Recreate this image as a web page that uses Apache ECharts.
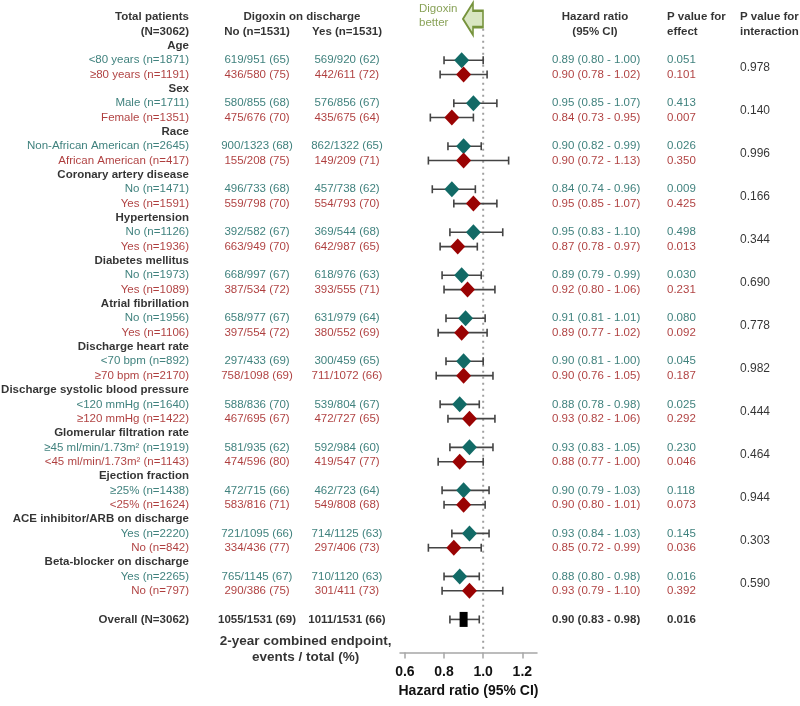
<!DOCTYPE html>
<html>
<head>
<meta charset="utf-8">
<script src="https://cdn.jsdelivr.net/npm/echarts@6/dist/echarts.min.js"></script>
<style>html,body{margin:0;padding:0;background:#fff}#c{width:800px;height:706px}</style>
</head>
<body>
<div id="c"></div>
<script>
// ---------------- DATA ----------------
const groupNames = ['Age','Sex','Race','Coronary artery disease','Hypertension','Diabetes mellitus','Atrial fibrillation','Discharge heart rate','Discharge systolic blood pressure','Glomerular filtration rate','Ejection fraction','ACE inhibitor/ARB on discharge','Beta-blocker on discharge'];
const subgroupLabels = [
  ['<80 years (n=1871)','≥80 years (n=1191)'],
  ['Male (n=1711)','Female (n=1351)'],
  ['Non-African American (n=2645)','African American (n=417)'],
  ['No (n=1471)','Yes (n=1591)'],
  ['No (n=1126)','Yes (n=1936)'],
  ['No (n=1973)','Yes (n=1089)'],
  ['No (n=1956)','Yes (n=1106)'],
  ['<70 bpm (n=892)','≥70 bpm (n=2170)'],
  ['<120 mmHg (n=1640)','≥120 mmHg (n=1422)'],
  ['≥45 ml/min/1.73m² (n=1919)','<45 ml/min/1.73m² (n=1143)'],
  ['≥25% (n=1438)','<25% (n=1624)'],
  ['Yes (n=2220)','No (n=842)'],
  ['Yes (n=2265)','No (n=797)']
];
const eventsNo = [
  ['619/951 (65)','436/580 (75)'],['580/855 (68)','475/676 (70)'],['900/1323 (68)','155/208 (75)'],
  ['496/733 (68)','559/798 (70)'],['392/582 (67)','663/949 (70)'],['668/997 (67)','387/534 (72)'],
  ['658/977 (67)','397/554 (72)'],['297/433 (69)','758/1098 (69)'],['588/836 (70)','467/695 (67)'],
  ['581/935 (62)','474/596 (80)'],['472/715 (66)','583/816 (71)'],['721/1095 (66)','334/436 (77)'],
  ['765/1145 (67)','290/386 (75)']
];
const eventsYes = [
  ['569/920 (62)','442/611 (72)'],['576/856 (67)','435/675 (64)'],['862/1322 (65)','149/209 (71)'],
  ['457/738 (62)','554/793 (70)'],['369/544 (68)','642/987 (65)'],['618/976 (63)','393/555 (71)'],
  ['631/979 (64)','380/552 (69)'],['300/459 (65)','711/1072 (66)'],['539/804 (67)','472/727 (65)'],
  ['592/984 (60)','419/547 (77)'],['462/723 (64)','549/808 (68)'],['714/1125 (63)','297/406 (73)'],
  ['710/1120 (63)','301/411 (73)']
];
const hrPoint = [[0.89,0.90],[0.95,0.84],[0.90,0.90],[0.84,0.95],[0.95,0.87],[0.89,0.92],[0.91,0.89],[0.90,0.90],[0.88,0.93],[0.93,0.88],[0.90,0.90],[0.93,0.85],[0.88,0.93]];
const hrLower = [[0.80,0.78],[0.85,0.73],[0.82,0.72],[0.74,0.85],[0.83,0.78],[0.79,0.80],[0.81,0.77],[0.81,0.76],[0.78,0.82],[0.83,0.77],[0.79,0.80],[0.84,0.72],[0.80,0.79]];
const hrUpper = [[1.00,1.02],[1.07,0.95],[0.99,1.13],[0.96,1.07],[1.10,0.97],[0.99,1.06],[1.01,1.02],[1.00,1.05],[0.98,1.06],[1.05,1.00],[1.03,1.01],[1.03,0.99],[0.98,1.10]];
const pEffect = [['0.051','0.101'],['0.413','0.007'],['0.026','0.350'],['0.009','0.425'],['0.498','0.013'],['0.030','0.231'],['0.080','0.092'],['0.045','0.187'],['0.025','0.292'],['0.230','0.046'],['0.118','0.073'],['0.145','0.036'],['0.016','0.392']];
const pInteraction = ['0.978','0.140','0.996','0.166','0.344','0.690','0.778','0.982','0.444','0.464','0.944','0.303','0.590'];
const overallLabel = 'Overall (N=3062)';
const overallNo = '1055/1531 (69)';
const overallYes = '1011/1531 (66)';
const overallHR = [0.90, 0.83, 0.98];
const overallP = '0.016';
const axisTicks = [0.6, 0.8, 1.0, 1.2];

// ---------------- LAYOUT / STYLE ----------------
const FONT = '"Liberation Sans", Arial, sans-serif';
const FS = 11.5;
const TEAL = '#126a66', RED = '#9a0303';
const TEAL_T = '#0f615c', RED_T = '#9a0c0c';
const ROW_MIN = -2.5, ROW_MAX = 42.3;
const OVERALL_ROW = 40;
const GRID_TOP = 10, GRID_H = 642.4;

function grid(left, width){ return {left:left, width:width, top:GRID_TOP, height:GRID_H, containLabel:false}; }
const grids = [
  grid(0, 189),      // 0 labels
  grid(212, 180),    // 1 events
  grid(400, 137),    // 2 forest
  grid(552, 86),     // 3 HR text
  grid(667, 60),     // 4 p effect
  grid(740, 55)      // 5 p interaction
];
const xAxes = grids.map((g,i)=> i===2 ? {
  gridIndex:2, type:'value', min:0.575, max:1.275, position:'bottom',
  axisLine:{show:true, onZero:false, lineStyle:{color:'#a6a6a6', width:1.5}},
  axisTick:{show:true, customValues:axisTicks, length:6, lineStyle:{color:'#a6a6a6', width:1.5}},
  axisLabel:{show:true, customValues:axisTicks, formatter:v=>v.toFixed(1), fontFamily:FONT, fontSize:14, fontWeight:'bold', color:'#111', margin:13},
  splitLine:{show:false},
  name:'Hazard ratio (95% CI)', nameLocation:'middle', nameGap:31,
  nameTextStyle:{fontFamily:FONT, fontSize:14, fontWeight:'bold', color:'#111'}
} : {gridIndex:i, type:'value', min:0, max:1, show:false});
const yAxes = grids.map((g,i)=>({gridIndex:i, type:'value', inverse:true, min:ROW_MIN, max:ROW_MAX, show:false}));

function item(x, row, text, color, bold, align, extra){
  return {value:[x,row], label:Object.assign({formatter:text, color:color, fontWeight:bold?'bold':'normal', align:align}, extra||{})};
}
function textSeries(gi, data){
  return {type:'scatter', xAxisIndex:gi, yAxisIndex:gi, symbolSize:1, itemStyle:{color:'rgba(0,0,0,0)'},
    clip:false, silent:true, animation:false,
    label:{show:true, position:'inside', verticalAlign:'middle', fontFamily:FONT, fontSize:FS},
    labelLayout:{hideOverlap:false}, data:data};
}

const labelData = [
  item(1,-2,'Total patients','#000',true,'right'),
  item(1,-1,'(N=3062)','#000',true,'right')
];
const eventData = [
  item(0.5,-2,'Digoxin on discharge','#000',true,'center'),
  item(0.25,-1,'No (n=1531)','#000',true,'center'),
  item(0.75,-1,'Yes (n=1531)','#000',true,'center')
];
const hrTextData = [
  item(0.5,-2,'Hazard ratio','#000',true,'center'),
  item(0.5,-1,'(95% CI)','#000',true,'center')
];
const pEffData = [
  item(0,-2,'P value for','#000',true,'left'),
  item(0,-1,'effect','#000',true,'left')
];
const pIntData = [
  item(0,-2,'P value for','#000',true,'left'),
  item(0,-1,'interaction','#000',true,'left')
];
const diamonds = [], bars = [];
groupNames.forEach((g, gi)=>{
  const base = gi*3;
  labelData.push(item(1, base, g, '#000', true, 'right'));
  for (let s=0; s<2; s++){
    const row = base+1+s;
    const col = s===0 ? TEAL_T : RED_T;
    labelData.push(item(1, row, subgroupLabels[gi][s], col, false, 'right'));
    eventData.push(item(0.25, row, eventsNo[gi][s], col, false, 'center'));
    eventData.push(item(0.75, row, eventsYes[gi][s], col, false, 'center'));
    const hr = hrPoint[gi][s], lo = hrLower[gi][s], hi = hrUpper[gi][s];
    hrTextData.push(item(0, row, hr.toFixed(2)+' ('+lo.toFixed(2)+' - '+hi.toFixed(2)+')', col, false, 'left'));
    pEffData.push(item(0, row, pEffect[gi][s], col, false, 'left'));
    diamonds.push({value:[hr,row], itemStyle:{color: s===0 ? TEAL : RED, opacity:1}});
    bars.push([lo, hi, row]);
  }
  pIntData.push(item(0, base+1.5, pInteraction[gi], '#000', false, 'left', {fontSize:12}));
});
labelData.push(item(1, OVERALL_ROW, overallLabel, '#000', true, 'right'));
eventData.push(item(0.25, OVERALL_ROW, overallNo, '#000', true, 'center'));
eventData.push(item(0.75, OVERALL_ROW, overallYes, '#000', true, 'center'));
eventData.push(item(0.52, 42.05, '2-year combined endpoint,\nevents / total (%)', '#000', true, 'center', {fontSize:13.5, lineHeight:16}));
hrTextData.push(item(0, OVERALL_ROW, overallHR[0].toFixed(2)+' ('+overallHR[1].toFixed(2)+' - '+overallHR[2].toFixed(2)+')', '#000', true, 'left'));
pEffData.push(item(0, OVERALL_ROW, overallP, '#000', true, 'left'));
bars.push([overallHR[1], overallHR[2], OVERALL_ROW]);

const series = [
  textSeries(0, labelData),
  textSeries(1, eventData),
  textSeries(3, hrTextData),
  textSeries(4, pEffData),
  textSeries(5, pIntData),
  // reference line at HR = 1
  {type:'line', xAxisIndex:2, yAxisIndex:2, data:[[1,-1.2],[1,ROW_MAX]], symbol:'none', silent:true, animation:false, z:1,
   lineStyle:{color:'#a0a0a0', width:2, type:[2,4]}},
  // error bars
  {type:'custom', xAxisIndex:2, yAxisIndex:2, data:bars, silent:true, animation:false, z:2,
   renderItem:function(params, api){
     const a = api.coord([api.value(0), api.value(2)]);
     const b = api.coord([api.value(1), api.value(2)]);
     const st = {stroke:'#444444', lineWidth:1.6};
     return {type:'group', children:[
       {type:'line', shape:{x1:a[0], y1:a[1], x2:b[0], y2:b[1]}, style:st},
       {type:'line', shape:{x1:a[0], y1:a[1]-4, x2:a[0], y2:a[1]+4}, style:st},
       {type:'line', shape:{x1:b[0], y1:b[1]-4, x2:b[0], y2:b[1]+4}, style:st}
     ]};
   }},
  // diamonds
  {type:'scatter', xAxisIndex:2, yAxisIndex:2, symbol:'diamond', symbolSize:[15,16], data:diamonds, silent:true, animation:false, z:3,
   itemStyle:{opacity:1}},
  // overall box
  {type:'scatter', xAxisIndex:2, yAxisIndex:2, symbol:'rect', symbolSize:[8,15], data:[[overallHR[0], OVERALL_ROW]],
   itemStyle:{color:'#000', opacity:1}, silent:true, animation:false, z:3},
  // "Digoxin better" arrow
  {type:'scatter', xAxisIndex:2, yAxisIndex:2, clip:false, symbol:'path://M0,16.5 L10,0 L10,8 L20,8 L20,25 L10,25 L10,33 Z',
   symbolSize:[20,32], symbolKeepAspect:false, data:[[0.948,-1.88]], silent:true, animation:false, z:4,
   itemStyle:{color:'#d9e6c2', borderColor:'#76933c', borderWidth:2, opacity:1}},
  {type:'scatter', xAxisIndex:2, yAxisIndex:2, clip:false, symbolSize:1, itemStyle:{color:'rgba(0,0,0,0)'}, silent:true, animation:false,
   data:[item(0.672,-2.1,'Digoxin\nbetter','#6b8b2e',false,'left',{lineHeight:14})],
   label:{show:true, position:'inside', verticalAlign:'middle', fontFamily:FONT, fontSize:FS}}
];

const chart = echarts.init(document.getElementById('c'), null, {renderer:'canvas'});
chart.setOption({
  animation:false,
  backgroundColor:'#fff',
  textStyle:{fontFamily:FONT},
  grid:grids, xAxis:xAxes, yAxis:yAxes, series:series
});
</script>
</body>
</html>
